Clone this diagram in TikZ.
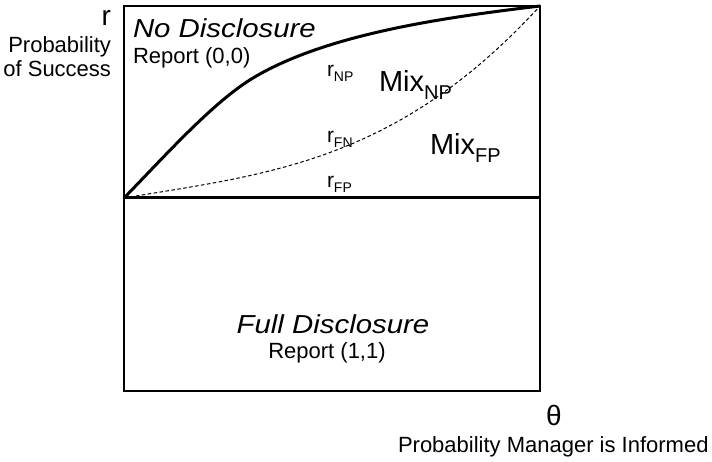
\documentclass[tikz,border=0pt]{standalone}
\usepackage{fontspec}
\setmainfont{Liberation Sans}
\newcommand{\fs}[1]{\fontsize{#1}{#1}\selectfont}
% \subtxt{base size}{base text}{sub size}{sub text}{drop}
\newcommand{\subtxt}[5]{{\fs{#1}#2}\raisebox{-#5pt}{\fs{#3}#4}}
\newcommand{\wide}[1]{\scalebox{1.13}[1]{#1}}
\begin{document}
\begin{tikzpicture}[x=1pt,y=-1pt,
  lbl/.style={inner sep=0pt,outer sep=0pt},
  frame/.style={line width=2pt},
  thick curve/.style={line width=3pt},
  dash curve/.style={line width=1pt,dash pattern=on 3.5pt off 2.5pt}]
\useasboundingbox (0,0) rectangle (712,462);
\coordinate (TL) at (124,6);
\coordinate (BR) at (540,391);
\coordinate (O) at (124,198);
\coordinate (E) at (540,6);
\coordinate (M) at (540,198);
\coordinate (K) at (253,78);
\draw[frame] (TL) rectangle (BR);
\draw[thick curve] (O) -- (M);
\draw[thick curve,line join=round] (O) .. controls (164,157) and (213,102) .. (K)
   .. controls (328,33) and (449,17) .. (E);
\draw[dash curve] (O) .. controls (267,174) and (396,163) .. (E);
% left axis labels
\node[lbl,anchor=base east] (r) at (111,26) {\fs{28}r};
\node[lbl,anchor=base east] (p1) at (111,53) {\fs{22}Probability};
\node[lbl,anchor=base east] (p2) at (111,77) {\fs{22}of Success};
% regions
\node[lbl,anchor=base west] (nd) at (133,38) {\wide{\fs{26}\itshape No Disclosure}};
\node[lbl,anchor=base west] (r00) at (133,64) {\fs{22}Report (0,0)};
\node[lbl,anchor=base west] (rnp) at (327,77) {\subtxt{21}{r}{14}{NP}{5}};
\node[lbl,anchor=base west] (mixnp) at (379,92) {\subtxt{29}{Mix}{20}{NP}{8}};
\node[lbl,anchor=base west] (rfn) at (327,143) {\subtxt{21}{r}{14}{FN}{5}};
\node[lbl,anchor=base west] (mixfp) at (430,155) {\subtxt{29}{Mix}{20}{FP}{8}};
\node[lbl,anchor=base west] (rfp) at (327,188) {\subtxt{21}{r}{14}{FP}{5}};
\node[lbl,anchor=base] (fd) at (333,333) {\wide{\fs{26}\itshape Full Disclosure}};
\node[lbl,anchor=base] (r11) at (327,358) {\fs{22}Report (1,1)};
% bottom axis labels
\node[lbl,anchor=base] (th) at (554,425) {\fs{28}θ};
\node[lbl,anchor=base west] (pm) at (398,452) {\fs{22}Probability Manager is Informed};
\end{tikzpicture}
\end{document}
